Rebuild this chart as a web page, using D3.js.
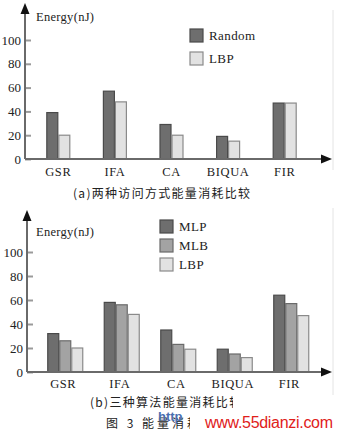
<!DOCTYPE html>
<html><head><meta charset="utf-8">
<script src="https://cdn.jsdelivr.net/npm/d3@7"></script>
<style>
html,body{margin:0;padding:0;background:#fff;}
svg{display:block;}
</style>
</head><body>
<script>
const categories = ["GSR","IFA","CA","BIQUA","FIR"];
const yTicks = [0,20,40,60,80,100];
// chart (a)
const seriesA = ["Random","LBP"];
const randomA = [39,57,29,19,47];
const lbpA    = [20,48,20,15,47];
// chart (b)
const seriesB = ["MLP","MLB","LBP"];
const mlpB = [32,58,35,19,64];
const mlbB = [26,56,23,15,57];
const lbpB = [20,48,19,12,47];

const yLabel = "Energy(nJ)";
const captionA = "(a)两种访问方式能量消耗比较";
const captionB = "(b)三种算法能量消耗比较";
const figCaption = "图 3  能量消耗比较";

const SERIF = "'Liberation Serif','DejaVu Serif','Times New Roman',serif";
const CJK = "'Noto Sans CJK SC','Noto Sans CJK JP',sans-serif";

const fills = {Random:"#6e6e6e", MLP:"#6e6e6e", MLB:"#a3a3a3", LBP:"#e2e2e2"};
const strokes = {Random:"#4a4a4a", MLP:"#4a4a4a", MLB:"#6a6a6a", LBP:"#8a8a8a"};

const svg = d3.select("body").append("svg").attr("width",339).attr("height",432);

function drawChart(cfg){
  const g = svg.append("g");
  const x = d3.scaleBand().domain(categories).range(cfg.xRange).padding(0);
  const y = d3.scaleLinear().domain([0,100]).range(cfg.yRange);
  const sub = d3.scaleBand().domain(cfg.series).range([-cfg.groupW/2, cfg.groupW/2]).padding(0);
  const x0 = cfg.axisX, yb = y(0);

  g.append("line").attr("x1",333).attr("x2",333).attr("y1",cfg.frameTop).attr("y2",cfg.frameBottom)
    .attr("stroke","#e4e4e4").attr("stroke-width",1);

  cfg.series.forEach((s,si)=>{
    g.selectAll(null).data(categories).enter().append("rect")
      .attr("x",c=>x(c)+x.bandwidth()/2+sub(s)+0.5)
      .attr("y",(c,i)=>y(cfg.values[si][i]))
      .attr("width",sub.bandwidth()-1)
      .attr("height",(c,i)=>yb-y(cfg.values[si][i]))
      .attr("fill",fills[s]).attr("stroke",strokes[s]).attr("stroke-width",1.2);
  });

  const ax = g.append("g").attr("transform",`translate(${x0},0)`)
    .call(d3.axisLeft(y).tickValues(yTicks).tickSizeInner(-6).tickSizeOuter(0).tickPadding(4));
  ax.attr("font-family",null).attr("font-size",null);
  ax.select(".domain").remove();
  ax.selectAll(".tick line").attr("stroke","#9a9a9a").attr("stroke-width",2);
  ax.selectAll(".tick text").style("font-family",SERIF).style("font-size","13px").attr("fill","#222");

  const bx = g.append("g").attr("transform",`translate(${cfg.labelShift},${yb})`)
    .call(d3.axisBottom(x).tickSize(0).tickPadding(cfg.labelPad));
  bx.attr("font-family",null).attr("font-size",null);
  bx.select(".domain").remove();
  bx.selectAll(".tick text").style("font-family",SERIF).style("font-size","12.5px").attr("fill","#222")
    .style("letter-spacing","0.6px");

  g.append("line").attr("x1",x0).attr("x2",x0).attr("y1",yb).attr("y2",cfg.arrowTop+8)
    .attr("stroke","#6a6a6a").attr("stroke-width",2);
  g.append("path").attr("d",`M${x0},${cfg.arrowTop}L${x0-4.5},${cfg.arrowTop+11}L${x0+4.5},${cfg.arrowTop+11}Z`).attr("fill","#111");
  g.append("line").attr("x1",x0).attr("x2",324).attr("y1",yb).attr("y2",yb)
    .attr("stroke","#6a6a6a").attr("stroke-width",2);
  g.append("path").attr("d",`M332,${yb}L321,${yb-4.5}L321,${yb+4.5}Z`).attr("fill","#111");

  g.append("text").attr("x",36).attr("y",cfg.yLabelY)
    .style("font-family",SERIF).style("font-size","12.5px").style("letter-spacing","0.3px").attr("fill","#222").text(yLabel);

  cfg.series.forEach((s,i)=>{
    const ly = cfg.legendY + i*cfg.legendStep;
    g.append("rect").attr("x",cfg.legendX).attr("y",ly).attr("width",13).attr("height",13)
      .attr("fill",fills[s]).attr("stroke",strokes[s]).attr("stroke-width",1.2);
    g.append("text").attr("x",cfg.legendX+19).attr("y",ly+11)
      .style("font-family",SERIF).style("font-size","13px").attr("fill","#222").style("letter-spacing","0.4px").text(s);
  });

  g.append("text").attr("x",cfg.capX).attr("y",cfg.capY)
    .style("font-family",CJK).style("font-size","12px")
    .style("letter-spacing","1.3px").attr("fill","#222").text(cfg.caption);
}

drawChart({
  series: seriesA, values:[randomA,lbpA],
  xRange:[30,313], yRange:[159,40], groupW:24, axisX:25, arrowTop:3,
  labelShift:0, labelPad:8, yLabelY:21,
  legendX:190, legendY:29, legendStep:23,
  caption:captionA, capX:73, capY:198, frameTop:10, frameBottom:170
});
drawChart({
  series: seriesB, values:[mlpB,mlbB,lbpB],
  xRange:[37,319.5], yRange:[372,252], groupW:36, axisX:27, arrowTop:210,
  labelShift:-2, labelPad:7, yLabelY:236,
  legendX:160, legendY:220, legendStep:19,
  caption:captionB, capX:90, capY:407, frameTop:208, frameBottom:395
});

svg.append("text").attr("x",106).attr("y",428)
  .style("font-family",CJK).style("font-size","12px")
  .style("letter-spacing","3px").attr("fill","#222").text(figCaption);

svg.append("rect").attr("x",233).attr("y",396).attr("width",106).attr("height",16).attr("fill","#fff");
svg.append("rect").attr("x",190).attr("y",412).attr("width",149).attr("height",20).attr("fill","#fff");
svg.append("text").attr("x",158).attr("y",421)
  .style("font-family","'Liberation Sans',Arial,sans-serif").style("font-size","13px").style("font-weight","bold")
  .attr("fill","#4a6fb0").text("http");
svg.append("text").attr("x",205).attr("y",428).attr("textLength",128)
  .style("font-family","'Liberation Sans',Arial,sans-serif").style("font-size","16px")
  .attr("fill","#e0201a").text("www.55dianzi.com");
</script>
</body></html>
